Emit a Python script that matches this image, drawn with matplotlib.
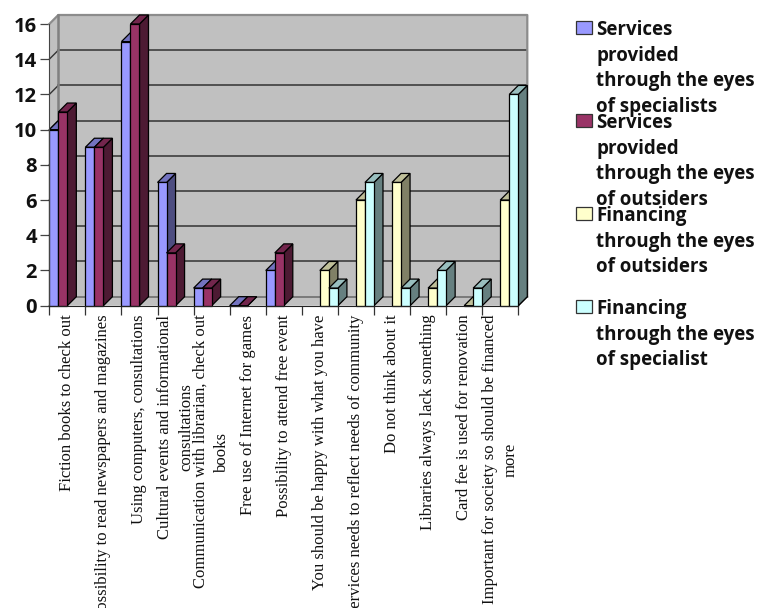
import numpy as np
import matplotlib.pyplot as plt
from matplotlib.patches import Rectangle

nan = np.nan

categories = ['Fiction books to check out',
              'Possibility to read newspapers and magazines',
              'Using computers, consultations',
              'Cultural events and informational\nconsultations',
              'Communication with librarian, check out\nbooks',
              'Free use of Internet for games',
              'Possibility to attend free event',
              'You should be happy with what you have',
              'Services needs to reflect needs of community',
              'Do not think about it',
              'Libraries always lack something',
              'Card fee is used for renovation',
              'Important for society so should be financed\nmore']

serv_spec = [10, 9, 15, 7, 1, 0, 2, nan, nan, nan, nan, nan, nan]
serv_out = [11, 9, 16, 3, 1, 0, 3, nan, nan, nan, nan, nan, nan]
fin_out = [nan, nan, nan, nan, nan, nan, nan, 2, 6, 7, 1, 0, 6]
fin_spec = [nan, nan, nan, nan, nan, nan, nan, 1, 7, 1, 2, 1, 12]

legend_labels = ['Services\nprovided\nthrough the eyes\nof specialists',
                 'Services\nprovided\nthrough the eyes\nof outsiders',
                 'Financing\nthrough the eyes\nof outsiders',
                 'Financing\nthrough the eyes\nof specialist']

front = ['#9999FF', '#993366', '#FFFFCC', '#CCFFFF']
top = ['#7373BF', '#73264D', '#BFBF99', '#99BFBF']
side = ['#4D4D80', '#4D1A33', '#808066', '#668080']

W, H = 759, 608
fig = plt.figure(figsize=(W / 100, H / 100), dpi=100)
ax = fig.add_axes([49.3 / W, 1 - 305.7 / H, 469 / W, 281.7 / H])
ax.set_xlim(0, 13)
ax.set_ylim(0, 16)

# depth of the fake 3d box, in data units (9 px each way)
dx = 9 / 36.08
dy = 9 / 17.6
wall = '#C0C0C0'

ax.fill([0, dx, dx, 0], [0, dy, 16 + dy, 16], color=wall, zorder=1, clip_on=False, lw=0)
ax.fill([dx, 13 + dx, 13 + dx, dx], [dy, dy, 16 + dy, 16 + dy], color=wall, zorder=1, clip_on=False, lw=0)
ax.fill([0, 13, 13 + dx, dx], [0, 0, dy, dy], color=wall, zorder=1, clip_on=False, lw=0)

for v in range(0, 16, 2):
    c = '#666666' if v == 0 else '#333333'
    ax.plot([dx, 13 + dx], [v + dy, v + dy], color=c, lw=1.1, zorder=2, clip_on=False)
    ax.plot([0, dx], [v, v + dy], color=c, lw=1, zorder=2, clip_on=False)
ax.plot([0, dx, 13 + dx, 13 + dx], [16, 16 + dy, 16 + dy, dy], color='#8C8C8C', lw=1.6, zorder=2, clip_on=False)
ax.plot([dx, dx], [dy, 16 + dy], color='#808080', lw=1.8, zorder=2, clip_on=False)
ax.plot([13, 13 + dx], [0, dy], color='#333333', lw=1, zorder=2, clip_on=False)

series = [serv_spec, serv_out, fin_out, fin_spec]
w = 0.25
z = 3
for i in range(len(categories)):
    for j, vals in enumerate(series):
        v = vals[i]
        if np.isnan(v):
            continue
        x0 = i + j * w
        x1 = x0 + w
        ax.fill([x1, x1 + dx, x1 + dx, x1], [0, dy, v + dy, v], facecolor=side[j],
                edgecolor='black', lw=0.9, zorder=z, clip_on=False)
        ax.fill([x0, x1, x1 + dx, x0 + dx], [v, v, v + dy, v + dy], facecolor=top[j],
                edgecolor='black', lw=0.9, zorder=z, clip_on=False)
        ax.bar(x0, v, width=w, align='edge', facecolor=front[j], edgecolor='black',
               lw=0.9, zorder=z + 0.5, clip_on=False)
        z += 1

for s in ['top', 'right']:
    ax.spines[s].set_visible(False)
ax.spines['left'].set_color('#444444')
ax.spines['bottom'].set_color('#222222')
ax.spines['left'].set_zorder(1000)
ax.spines['bottom'].set_zorder(1000)

ax.set_yticks(range(0, 17, 2))
ax.set_yticklabels(range(0, 17, 2), fontfamily='Open Sans', fontweight='bold', fontsize=14.5, color='#111111')
ax.tick_params(axis='y', length=6.5, width=0.9, color='#444444', pad=2.5)

ax.set_xticks(range(0, 14))
ax.set_xticklabels([])
ax.tick_params(axis='x', which='major', length=6.5, width=0.9, color='#333333')
ax.set_xticks(np.arange(13) + 0.5, minor=True)
ax.set_xticklabels(categories, minor=True, rotation=90, ha='center', va='top',
                   fontfamily='Liberation Serif', fontsize=12, linespacing=1.45, color='#111111')
ax.tick_params(axis='x', which='minor', length=0, pad=6.5)

# legend is placed by hand, the entries overlap in the original
for k, lab in enumerate(legend_labels):
    ytop = 20.7 + 93 * k
    fig.add_artist(Rectangle((576 / W, 1 - (ytop + 13.3) / H), 15.5 / W, 13.3 / H, facecolor=front[k],
                             edgecolor='#333333', lw=0.9, transform=fig.transFigure))
    fig.text(596 / W, 1 - (ytop - 1) / H, lab, fontfamily='Open Sans', fontweight='bold', fontsize=13.5,
             va='top', ha='left', linespacing=1.39, color='#111111')

fig.savefig('out.png', dpi=100)
